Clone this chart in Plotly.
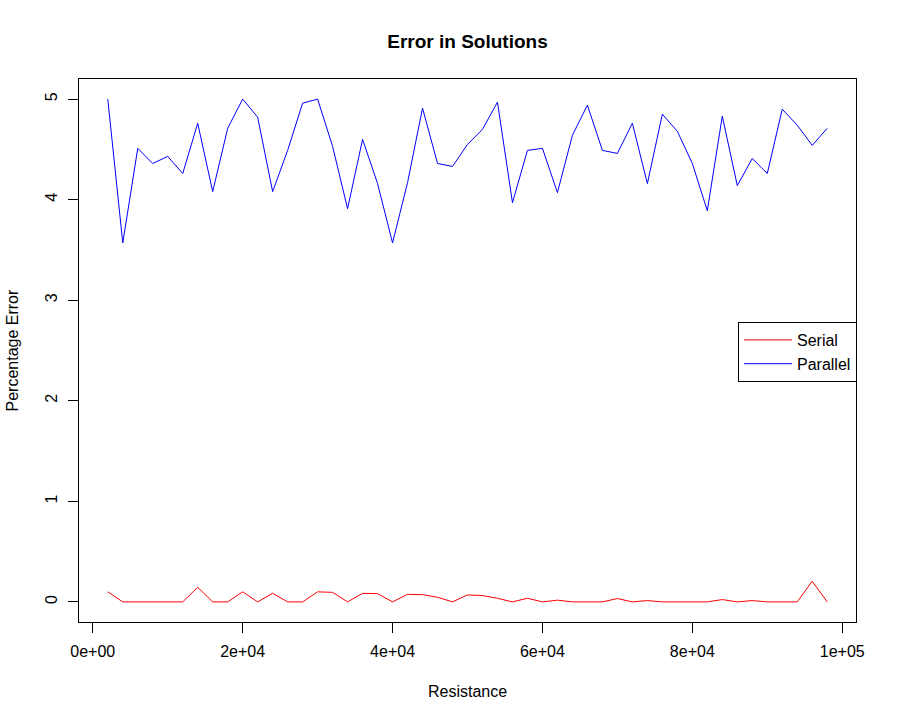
import plotly.graph_objects as go

resistance = list(range(2000, 100000, 2000))

serial_error = [0.10, 0.0, 0.0, 0.0, 0.0, 0.0, 0.145, 0.0, 0.0, 0.10,
                0.0, 0.086, 0.0, 0.0, 0.10, 0.095, 0.0, 0.085, 0.082, 0.0,
                0.075, 0.072, 0.046, 0.0, 0.069, 0.063, 0.036, 0.0, 0.036, 0.0,
                0.017, 0.0, 0.0, 0.0, 0.033, 0.0, 0.013, 0.0, 0.0, 0.0,
                0.0, 0.023, 0.0, 0.013, 0.0, 0.0, 0.0, 0.205, 0.0]

parallel_error = [5.00, 3.57, 4.51, 4.36, 4.43, 4.26, 4.76, 4.08, 4.71, 5.00,
                  4.82, 4.08, 4.49, 4.96, 5.00, 4.53, 3.91, 4.60, 4.16, 3.57,
                  4.17, 4.91, 4.36, 4.33, 4.55, 4.70, 4.97, 3.97, 4.49, 4.51,
                  4.07, 4.64, 4.94, 4.49, 4.46, 4.76, 4.16, 4.85, 4.68, 4.36,
                  3.89, 4.83, 4.14, 4.41, 4.26, 4.90, 4.74, 4.54, 4.71]

x_tickvals = [0, 20000, 40000, 60000, 80000, 100000]
x_ticktext = ["0e+00", "2e+04", "4e+04", "6e+04", "8e+04", "1e+05"]
y_tickvals = [0, 1, 2, 3, 4, 5]
y_ticktext = ["0", "1", "2", "3", "4", "5"]

FONT = "Liberation Sans, Arial, Helvetica, sans-serif"

W, H = 897, 721
L, T, R, B = 79, 79, 41, 99
PW, PH = W - L - R, H - T - B

fig = go.Figure()
fig.add_trace(go.Scatter(x=resistance, y=serial_error, mode="lines", name="Serial",
                         line=dict(color="#ff0000", width=1)))
fig.add_trace(go.Scatter(x=resistance, y=parallel_error, mode="lines", name="Parallel",
                         line=dict(color="#0000ff", width=1)))

fig.update_layout(
    width=W, height=H,
    margin=dict(l=L, r=R, t=T, b=B),
    paper_bgcolor="white", plot_bgcolor="white",
    font=dict(family=FONT, size=16, color="black"),
    title=dict(text="<b>Error in Solutions</b>", x=467.5 / W, xanchor="center",
               y=1 - 41 / H, yanchor="middle", yref="container",
               font=dict(size=19, family=FONT, color="black")),
    showlegend=True,
    legend=dict(x=(738 - L) / PW, y=(622 - 322) / PH, xanchor="left", yanchor="top",
                bordercolor="black", borderwidth=1, bgcolor="white",
                font=dict(size=16, family=FONT), itemwidth=48,
                tracegroupgap=0),
)

fig.update_xaxes(range=[-1840, 101840], tickvals=x_tickvals, ticktext=x_ticktext,
                 showgrid=False, zeroline=False, showline=True, linecolor="black",
                 linewidth=1, mirror=True, ticks="outside", ticklen=10, tickcolor="black",
                 tickfont=dict(size=16), ticklabelstandoff=5)
fig.update_yaxes(range=[-0.2, 5.2], tickvals=y_tickvals, ticktext=y_ticktext,
                 showgrid=False, zeroline=False, showline=True, linecolor="black",
                 linewidth=1, mirror=True, ticks="outside", ticklen=10, tickcolor="black",
                 tickangle=-90, tickfont=dict(size=16), ticklabelstandoff=5)

fig.add_annotation(text="Resistance", xref="paper", yref="paper", x=0.5, y=0,
                   xanchor="center", yanchor="middle", yshift=-(691 - 622),
                   showarrow=False, font=dict(size=16))
fig.add_annotation(text="Percentage Error", xref="paper", yref="paper", x=0, y=0.5,
                   xanchor="center", yanchor="middle", xshift=-(79 - 12), textangle=-90,
                   showarrow=False, font=dict(size=16), borderpad=0)

fig.write_html("out.html", config={"displayModeBar": False},
               post_script="document.body.style.margin='0';document.body.style.overflow='hidden';")
